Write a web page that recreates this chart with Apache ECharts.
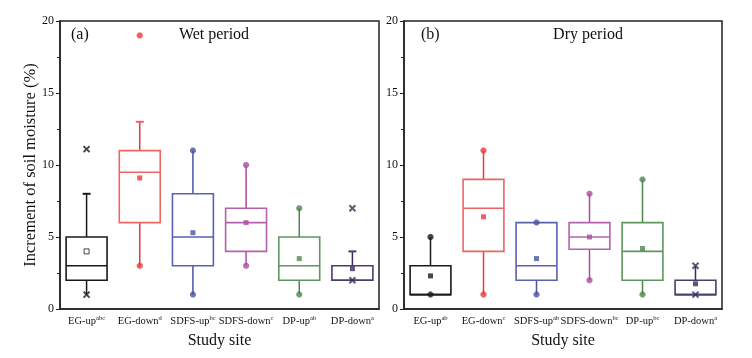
<!DOCTYPE html>
<html><head><meta charset="utf-8">
<script src="https://cdn.jsdelivr.net/npm/echarts@6/dist/echarts.min.js"></script>
<style>html,body{margin:0;padding:0;background:#fff}#c{width:752px;height:358px}</style>
</head><body><div id="c"></div>
<script>
// ---- data ----
var sites = ['EG-up','EG-down','SDFS-up','SDFS-down','DP-up','DP-down'];
var supWet = ['abc','d','bc','c','ab','a'];
var supDry = ['ab','c','ab','bc','bc','a'];
var yTicks = [0,5,10,15,20];

var wetLow  = [1, 3, 1, 3, 1, 2];
var wetQ1   = [2, 6, 3, 4, 2, 2];
var wetMed  = [3, 9.5, 5, 6, 3, 2];
var wetQ3   = [5, 11, 8, 7, 5, 3];
var wetHigh = [8, 13, 11, 10, 7, 4];
var wetMean = [4, 9.1, 5.3, 6, 3.5, 2.8];
var wetCap  = [1, 1, 0, 0, 0, 1];           // whisker end drawn as a short cap
var wetMinMark = [1, 3, 1, 3, 1, 2];
var wetMaxMark = [11.1, 19, 11, 10, 7, 7];

var dryLow  = [1, 1, 1, 2, 1, 1];
var dryQ1   = [1, 4, 2, 4.15, 2, 1];
var dryMed  = [1, 7, 3, 5, 4, 1];
var dryQ3   = [3, 9, 6, 6, 6, 2];
var dryHigh = [5, 11, 6, 8, 9, 3];
var dryMean = [2.3, 6.4, 3.5, 5.0, 4.2, 1.75];
var dryCap  = [0, 0, 0, 0, 0, 0];
var dryMinMark = [1, 1, 1, 2, 1, 1];
var dryMaxMark = [5, 11, 6, 8, 9, 3];

// ---- styles ----
var lineCol = ['#1a1a1a','#e83a3a','#4a52a2','#a94c9f','#4d874d','#3b2c5c'];
var boxCol  = ['#1a1a1a','#f06464','#5a62ae','#b462ac','#5e965e','#4a3c6c'];
var FONT = '"Liberation Serif", "Times New Roman", serif';
var BLOB = 'path://M3,0L7,0L10,3L10,7L7,10L3,10L0,7L0,3Z';

function boxData(low,q1,med,q3,high,cap){
  return sites.map(function(s,i){return [i,low[i],q1[i],med[i],q3[i],high[i],cap[i]];});
}
function renderBox(params, api){
  var i = api.value(0);
  var w = api.size([1,0])[0]*0.77;
  var pLow = api.coord([i, api.value(1)]);
  var pQ1 = api.coord([i, api.value(2)]);
  var pMed = api.coord([i, api.value(3)]);
  var pQ3 = api.coord([i, api.value(4)]);
  var pHigh = api.coord([i, api.value(5)]);
  var cap = api.value(6);
  var x = pQ1[0];
  var lc = lineCol[i], bc = boxCol[i];
  var ch = [
    {type:'line', shape:{x1:x,y1:pQ3[1],x2:x,y2:pHigh[1]}, style:{stroke:lc,lineWidth:1.5}},
    {type:'line', shape:{x1:x,y1:pQ1[1],x2:x,y2:pLow[1]}, style:{stroke:lc,lineWidth:1.5}},
    {type:'rect', shape:{x:x-w/2,y:pQ3[1],width:w,height:pQ1[1]-pQ3[1]}, style:{fill:'none',stroke:bc,lineWidth:1.6}},
    {type:'line', shape:{x1:x-w/2,y1:pMed[1],x2:x+w/2,y2:pMed[1]}, style:{stroke:bc,lineWidth:1.6}}
  ];
  if (cap) ch.push({type:'line', shape:{x1:x-4,y1:pHigh[1],x2:x+4,y2:pHigh[1]}, style:{stroke:bc,lineWidth:2}});
  return {type:'group', children:ch};
}

function xLabel(sup){
  return function(v, i){ return '{b|' + v + '}{s|' + sup[i] + '}'; };
}
function xAxisCfg(gi, sup){
  return {
    type:'category', gridIndex:gi, data:sites, name:'Study site', nameLocation:'middle', nameGap:24,
    nameTextStyle:{fontFamily:FONT,fontSize:16,color:'#111'},
    axisLine:{lineStyle:{color:'#222',width:1.5}},
    axisTick:{alignWithLabel:true,length:4,lineStyle:{color:'#222'}},
    axisLabel:{formatter:xLabel(sup), fontFamily:FONT, fontSize:10.5, color:'#111', margin:6, interval:0,
      rich:{b:{fontFamily:FONT,fontSize:10.5,color:'#111',lineHeight:13},
            s:{fontFamily:FONT,fontSize:6.5,color:'#111',verticalAlign:'top',lineHeight:13,padding:[0,0,4,0]}}},
    splitLine:{show:false}
  };
}
function yAxisCfg(gi, withName){
  return {
    type:'value', gridIndex:gi, min:yTicks[0], max:yTicks[yTicks.length-1], interval:5,
    name: withName ? 'Increment of soil moisture (%)' : '', nameLocation:'middle', nameGap:21,
    nameMoveOverlap:false,
    nameTextStyle:{fontFamily:FONT,fontSize:16.5,color:'#111'},
    axisLine:{show:true,lineStyle:{color:'#222',width:1.5}},
    axisTick:{show:true,length:4,lineStyle:{color:'#222'}},
    minorTick:{show:true,splitNumber:2,length:3,lineStyle:{color:'#222'}},
    axisLabel:{fontFamily:FONT,fontSize:12,color:'#111',margin:6},
    splitLine:{show:false}
  };
}

var series = [];
function addPanel(gi, low,q1,med,q3,high,mean,cap,minM,maxM, openMeanIdx, xIdx){
  series.push({type:'custom', xAxisIndex:gi, yAxisIndex:gi, renderItem:renderBox,
    data:boxData(low,q1,med,q3,high,cap), encode:{x:0,y:[1,2,3,4,5]}, z:2});
  // mean markers
  series.push({type:'scatter', xAxisIndex:gi, yAxisIndex:gi, symbol:'rect', symbolSize:5, z:3,
    data: mean.map(function(v,i){
      var open = (i===openMeanIdx);
      return {value:[i,v], itemStyle: open ? {color:'#fff',borderColor:lineCol[i],borderWidth:1} : {color:lineCol[i]}};
    })});
  // min / max markers
  series.push({type:'scatter', xAxisIndex:gi, yAxisIndex:gi, symbol:BLOB, symbolSize:6, z:3,
    data: minM.concat(maxM).map(function(v,k){
      var i = k % 6;
      if (xIdx.indexOf(k) >= 0) return null;
      return {value:[i,v], itemStyle:{color:lineCol[i]}};
    }).filter(function(d){return d;})});
  series.push({type:'scatter', xAxisIndex:gi, yAxisIndex:gi, symbol:'path://M0,0L1,1M1,0L0,1', symbolSize:6, z:3,
    data: minM.concat(maxM).map(function(v,k){
      var i = k % 6;
      if (xIdx.indexOf(k) < 0) return null;
      return {value:[i,v], itemStyle:{color:'transparent',borderColor:lineCol[i],borderWidth:2}};
    }).filter(function(d){return d;})});
}
// indices (0-5 = min markers, 6-11 = max markers) drawn as crosses
addPanel(0, wetLow,wetQ1,wetMed,wetQ3,wetHigh,wetMean,wetCap,wetMinMark,wetMaxMark, 0, [0,6,5,11]);
addPanel(1, dryLow,dryQ1,dryMed,dryQ3,dryHigh,dryMean,dryCap,dryMinMark,dryMaxMark, -1, [5,11]);

var chart = echarts.init(document.getElementById('c'), null, {renderer:'canvas'});
chart.setOption({
  backgroundColor:'#fff',
  animation:false,
  grid:[
    {left:60,right:373,top:21,bottom:49,show:true,borderColor:'#222',borderWidth:1.5,backgroundColor:'transparent'},
    {left:404,right:30,top:21,bottom:49,show:true,borderColor:'#222',borderWidth:1.5,backgroundColor:'transparent'}
  ],
  title:[
    {text:'(a)',left:66,top:22,textStyle:{fontFamily:FONT,fontSize:16,fontWeight:'normal',color:'#111'}},
    {text:'Wet period',left:209,top:22,textAlign:'center',textStyle:{fontFamily:FONT,fontSize:16,fontWeight:'normal',color:'#111'}},
    {text:'(b)',left:416,top:22,textStyle:{fontFamily:FONT,fontSize:16,fontWeight:'normal',color:'#111'}},
    {text:'Dry period',left:583,top:22,textAlign:'center',textStyle:{fontFamily:FONT,fontSize:16,fontWeight:'normal',color:'#111'}}
  ],
  xAxis:[xAxisCfg(0,supWet), xAxisCfg(1,supDry)],
  yAxis:[yAxisCfg(0,true), yAxisCfg(1,false)],
  series:series
});
</script>
</body></html>
